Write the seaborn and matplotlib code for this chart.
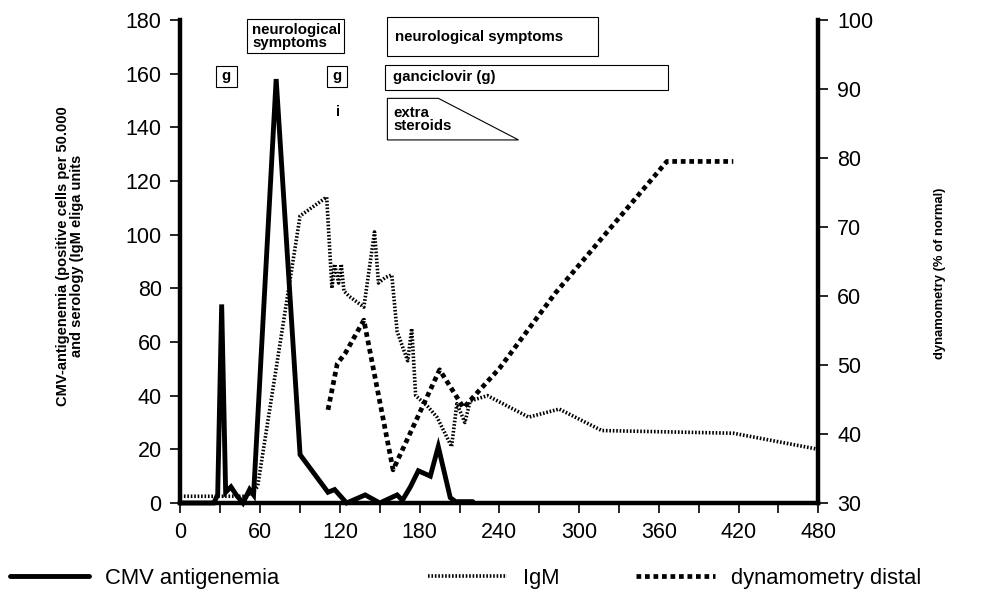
import matplotlib
matplotlib.use("Agg")
import seaborn as sns
from matplotlib import pyplot as plt
from matplotlib.patches import Polygon, Rectangle
from matplotlib.ticker import MultipleLocator

# data (days, values)
cmv_days = [0, 25, 28, 31, 34, 38, 42, 47, 52, 55, 72, 90, 111, 116, 125, 139,
            150, 163, 167, 173, 179, 188, 194, 203, 207, 220]
cmv_vals = [0, 0, 3, 74, 4, 6, 3, 0, 5, 3, 158, 18, 4, 5, 0, 3,
            0, 3, 1, 6, 12, 10, 21, 2, 0.5, 0.5]

igm_days = [0, 50, 58, 90, 110, 114, 116, 119, 121, 123, 127, 138, 146, 149,
            154, 159, 163, 168, 171, 174, 177, 186, 193, 197, 204, 208, 214,
            218, 231, 262, 285, 317, 416, 480]
igm_vals = [2.5, 2.5, 6, 107, 114, 80, 89, 82, 89, 79, 77, 73, 101, 82,
            84, 85, 64, 57, 53, 65, 40, 36, 32, 28, 21, 37, 30,
            38, 40, 32, 35, 27, 26, 20]

dyn_days = [111, 118, 124, 138, 160, 195, 213, 240, 282, 366, 416]
dyn_vals = [43.5, 50.2, 51.7, 56.5, 34.8, 49.3, 43.8, 49.5, 60.4, 79.5, 79.5]

legend_labels = ["CMV antigenemia", "IgM", "dynamometry distal"]

sns.set_style("ticks")
plt.rcParams["font.family"] = ["Liberation Sans", "DejaVu Sans"]
plt.rcParams["text.color"] = "black"
plt.rcParams["axes.labelcolor"] = "black"

fig = plt.figure(figsize=(9.83, 5.99), dpi=100)
ax = fig.add_axes([0.1836, 0.1603, 0.6489, 0.8063])
ax2 = ax.twinx()

sns.lineplot(x=cmv_days, y=cmv_vals, ax=ax, color="black", lw=3.5,
             sort=False, estimator=None, clip_on=False,
             solid_joinstyle="miter")
sns.lineplot(x=igm_days, y=igm_vals, ax=ax, color="black", lw=2.6,
             linestyle=(0, (0.45, 0.5)), sort=False, estimator=None,
             clip_on=False)
sns.lineplot(x=dyn_days, y=dyn_vals, ax=ax2, color="black", lw=3.4,
             linestyle=(0, (1.0, 0.8)), sort=False, estimator=None,
             clip_on=False)

ax.set_xlim(0, 480)
ax.set_ylim(0, 180)
ax2.set_ylim(30, 100)
ax.xaxis.set_major_locator(MultipleLocator(60))
ax.xaxis.set_minor_locator(MultipleLocator(30))
ax.yaxis.set_major_locator(MultipleLocator(20))
ax2.yaxis.set_major_locator(MultipleLocator(10))

for a in (ax, ax2):
    a.set_xlabel("")
    a.set_ylabel("")
    a.spines["top"].set_visible(False)
    a.tick_params(which="both", direction="out", length=7.5, width=1.2,
                  colors="black", labelsize=15.5, pad=6)
ax.spines["right"].set_visible(False)
ax2.spines["left"].set_visible(False)
ax2.spines["bottom"].set_visible(False)
ax.spines["left"].set_linewidth(3.2)
ax.spines["bottom"].set_linewidth(3.2)
ax2.spines["right"].set_linewidth(3.2)
for s in ("left", "bottom"):
    ax.spines[s].set_color("black")
ax2.spines["right"].set_color("black")

fig.text(0.071, 0.573,
         "CMV-antigenemia (positive cells per 50.000\nand serology (IgM eliga units",
         rotation=90, ha="center", va="center", ma="center",
         fontsize=10.5, fontweight="bold", linespacing=0.95)
fig.text(0.956, 0.543, "dynamometry (% of normal)", rotation=90,
         ha="center", va="center", fontsize=9.4, fontweight="bold")

# annotation boxes
box_kw = dict(fill=False, edgecolor="black", lw=0.8, clip_on=False)
txt_kw = dict(fontsize=10.8, fontweight="bold", clip_on=False)
ax.add_patch(Rectangle((50.4, 167.6), 72.3, 12.8, **box_kw))
ax.text(54, 174, "neurological\nsymptoms", va="center", ha="left",
        linespacing=0.9, **txt_kw)
ax.add_patch(Rectangle((26.7, 154.9), 15.5, 8.1, **box_kw))
ax.text(34.5, 159, "g", va="center", ha="center", **txt_kw)
ax.add_patch(Rectangle((110.5, 154.9), 15.1, 8.1, **box_kw))
ax.text(118, 159, "g", va="center", ha="center", **txt_kw)
ax.text(118.8, 145.8, "i", va="center", ha="center", **txt_kw)
ax.add_patch(Rectangle((155.7, 166.6), 158.7, 14.4, **box_kw))
ax.text(161.5, 173.8, "neurological symptoms", va="center", ha="left", **txt_kw)
ax.add_patch(Rectangle((154, 153.9), 213, 9.3, **box_kw))
ax.text(160, 158.6, "ganciclovir (g)", va="center", ha="left", **txt_kw)
ax.add_patch(Polygon([(155.7, 150.8), (194.1, 150.8), (254.4, 135.3),
                      (155.7, 135.3)], closed=True, **box_kw))
ax.text(160, 143, "extra\nsteroids", va="center", ha="left",
        linespacing=0.9, **txt_kw)

# legend along the bottom, three separate entries
handles = [ax.lines[0], ax.lines[1], ax2.lines[0]]
for h, lab, xpos in zip(handles, legend_labels, [0.0102, 0.4354, 0.647]):
    fig.legend([h], [lab], loc="center left", bbox_to_anchor=(xpos, 0.035),
               frameon=False, fontsize=15.8, handlelength=3.6,
               handletextpad=0.75, borderpad=0, borderaxespad=0,
               labelcolor="black")

fig.savefig("out.png", dpi=100)
